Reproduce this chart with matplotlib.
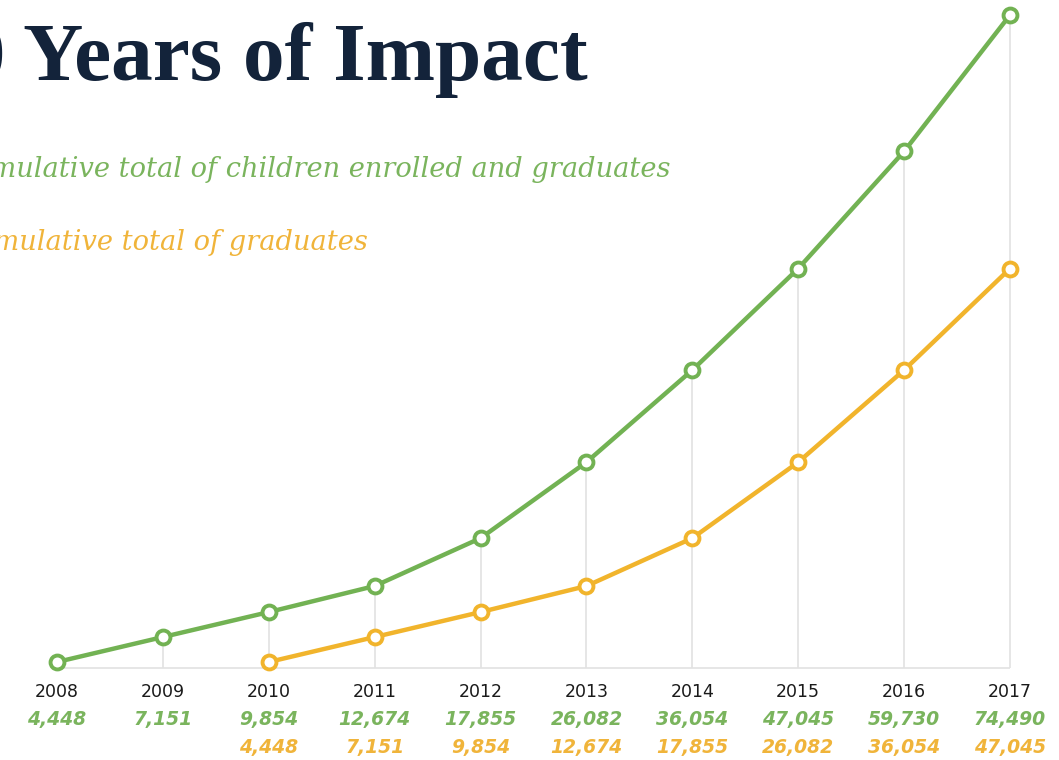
import matplotlib
matplotlib.use("Agg")
import matplotlib.pyplot as plt
import matplotlib.transforms as mtransforms

years = [2008, 2009, 2010, 2011, 2012, 2013, 2014, 2015, 2016, 2017]
enrolled_total = [4448, 7151, 9854, 12674, 17855, 26082, 36054, 47045, 59730, 74490]
grad_years = [2010, 2011, 2012, 2013, 2014, 2015, 2016, 2017]
graduates_total = [4448, 7151, 9854, 12674, 17855, 26082, 36054, 47045]
baseline_value = 3800

title = "10 Years of Impact"
label_enrolled = "Cumulative total of children enrolled and graduates"
label_grads = "Cumulative total of graduates"

GREEN = "#72b253"
GREEN_TXT = "#7ab45d"
ORANGE = "#f1b42c"
ORANGE_TXT = "#f0b43a"
NAVY = "#13233a"
GRID = "#e2e2e2"

W, H = 1059, 760
fig = plt.figure(figsize=(W / 100, H / 100), dpi=100)
ax = fig.add_axes([0, 0, 1, 1])
ax.set_xlim(2007.4617, 2017.4627)
ax.set_ylim(-6161, 76117)
ax.axis("off")

ax.hlines(baseline_value, years[0], years[-1], color=GRID, lw=1.2, zorder=1)
ax.vlines(years, baseline_value, enrolled_total, color=GRID, lw=1.2, zorder=1)

ax.plot(years, enrolled_total, color=GREEN, lw=3.2, marker="o", ms=10,
        mfc="white", mec=GREEN, mew=2.8, zorder=3, solid_capstyle="round")
ax.plot(grad_years, graduates_total, color=ORANGE, lw=3.2, marker="o", ms=10,
        mfc="white", mec=ORANGE, mew=2.8, zorder=3, solid_capstyle="round")

trans = mtransforms.blended_transform_factory(ax.transData, fig.transFigure)
for y, v in zip(years, enrolled_total):
    ax.text(y, 1 - 692 / H, str(y), transform=trans, ha="center", va="center",
            fontsize=12.5, family="DejaVu Sans", weight="medium", color="#1a1a1a")
    ax.text(y, 1 - 719 / H, f"{v:,}", transform=trans, ha="center", va="center",
            fontsize=13.5, family="DejaVu Sans", weight="bold", style="italic",
            color=GREEN_TXT)
for y, v in zip(grad_years, graduates_total):
    ax.text(y, 1 - 747 / H, f"{v:,}", transform=trans, ha="center", va="center",
            fontsize=13.5, family="DejaVu Sans", weight="bold", style="italic",
            color=ORANGE_TXT)

fig.text(588 / W, 1 - 80 / H, title, ha="right", va="baseline", fontsize=60,
         family="Liberation Serif", weight="bold", color=NAVY)
fig.text(670 / W, 1 - 177 / H, label_enrolled, ha="right", va="baseline",
         fontsize=19.6, family="DejaVu Serif", style="italic", color=GREEN_TXT)
fig.text(368 / W, 1 - 250 / H, label_grads, ha="right", va="baseline",
         fontsize=19.6, family="DejaVu Serif", style="italic", color=ORANGE_TXT)

fig.savefig("out.png", dpi=100, facecolor="white")
